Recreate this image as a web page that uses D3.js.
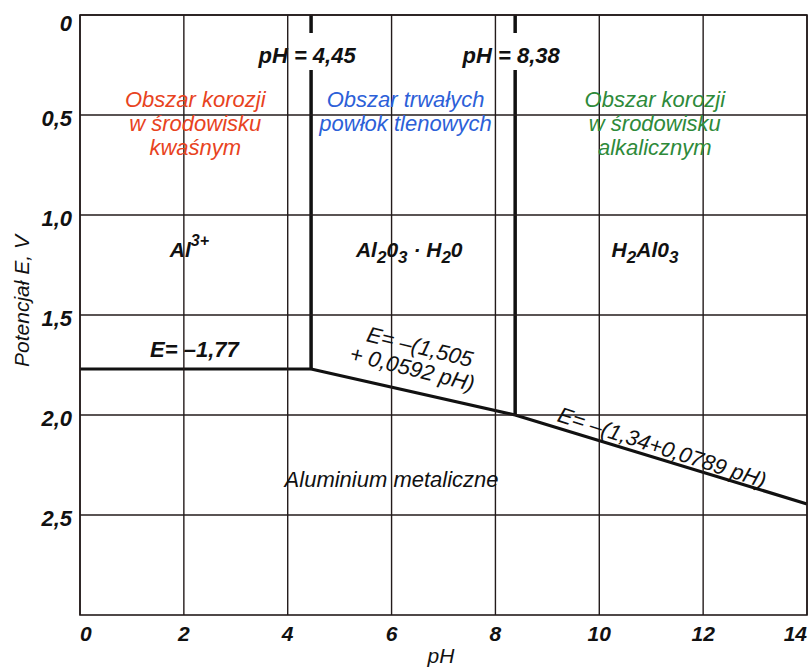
<!DOCTYPE html>
<meta charset="utf-8" />
<script src="https://d3js.org/d3.v7.min.js"></script>
<style>
  body { margin: 0; background: #fff; }
  text { font-family: 'Liberation Sans', Arial, sans-serif; font-style: italic; }
</style>
<div id="chart"></div>
<script>
  // axis ticks
  const pHTicks = [0, 2, 4, 6, 8, 10, 12, 14];
  const eTicks = [0, 0.5, 1.0, 1.5, 2.0, 2.5];
  const eTickLabels = ['0', '0,5', '1,0', '1,5', '2,0', '2,5'];

  // boundaries of the Pourbaix diagram (pH, -E in V)
  const boundaryPH = [4.45, 8.38];
  const boundaryPHLabels = ['pH = 4,45', 'pH = 8,38'];
  const boundaryTopE = [1.77, 2.0];
  const al3Line = [[0, 1.77], [4.45, 1.77]];
  const metalLine = [[4.45, 1.77], [8.38, 2.0], [14, 2.445]];

  const margin = { top: 15, right: 2, bottom: 55, left: 80 },
    width = 809 - margin.left - margin.right,
    height = 670 - margin.top - margin.bottom;

  const svg = d3.select('#chart')
    .append('svg')
    .attr('width', 809)
    .attr('height', 670)
    .append('g')
    .attr('transform', `translate(${margin.left}, ${margin.top})`);

  const x = d3.scaleLinear().domain([0, 14]).range([0, width]);
  const y = d3.scaleLinear().domain([0, 3]).range([0, height]);
  const ink = '#231b1b';

  // thick boundary lines
  const line = d3.line().x(d => x(d[0])).y(d => y(d[1]));
  boundaryPH.forEach((p, i) => {
    svg.append('line')
      .attr('x1', x(p)).attr('x2', x(p))
      .attr('y1', y(0)).attr('y2', y(boundaryTopE[i]))
      .attr('stroke', '#111').attr('stroke-width', 3.5);
  });
  [al3Line, metalLine].forEach(d => {
    svg.append('path').datum(d)
      .attr('d', line)
      .attr('fill', 'none')
      .attr('stroke', '#111')
      .attr('stroke-width', 3.2)
      .attr('stroke-linejoin', 'round');
  });

  // pH labels with a white gap in the boundary line
  boundaryPH.forEach((p, i) => {
    const t = svg.append('text')
      .attr('x', x(p) - 4)
      .attr('y', 48)
      .attr('text-anchor', 'middle')
      .style('font-weight', 'bold')
      .style('font-size', '22px')
      .attr('fill', '#111')
      .text(boundaryPHLabels[i]);
    const b = t.node().getBBox();
    svg.insert('rect', 'text')
      .attr('x', b.x - 2).attr('y', b.y - 10)
      .attr('width', b.width + 4).attr('height', b.height + 12)
      .attr('fill', '#fff');
  });

  // grid
  svg.append('g')
    .selectAll('line')
    .data(pHTicks)
    .join('line')
    .attr('x1', d => x(d)).attr('x2', d => x(d))
    .attr('y1', 0).attr('y2', height)
    .attr('stroke', ink).attr('stroke-width', 1.4);
  svg.append('g')
    .selectAll('line')
    .data(eTicks)
    .join('line')
    .attr('x1', 0).attr('x2', width)
    .attr('y1', d => y(d)).attr('y2', d => y(d))
    .attr('stroke', ink).attr('stroke-width', 1.4);
  svg.append('rect')
    .attr('width', width).attr('height', height)
    .attr('fill', 'none').attr('stroke', ink).attr('stroke-width', 1.6);

  // tick labels
  svg.append('g')
    .selectAll('text')
    .data(eTicks)
    .join('text')
    .attr('x', -8)
    .attr('y', (d, i) => y(d) + (i === 0 ? 16 : 11))
    .attr('text-anchor', 'end')
    .style('font-weight', 'bold')
    .style('font-size', '22px')
    .attr('fill', '#111')
    .text((d, i) => eTickLabels[i]);
  svg.append('g')
    .selectAll('text')
    .data(pHTicks)
    .join('text')
    .attr('x', d => x(d))
    .attr('y', height + 26)
    .attr('text-anchor', (d, i) => i === 0 ? 'start' : i === pHTicks.length - 1 ? 'end' : 'middle')
    .style('font-weight', 'bold')
    .style('font-size', '21px')
    .attr('fill', '#111')
    .text(d => d);

  // axis titles
  svg.append('text')
    .attr('x', x(6.95)).attr('y', height + 48)
    .attr('text-anchor', 'middle')
    .style('font-size', '21px')
    .attr('fill', '#111')
    .text('pH');
  svg.append('text')
    .attr('transform', `translate(-51, ${y(1.43)}) rotate(-90)`)
    .attr('text-anchor', 'middle')
    .style('font-size', '21px')
    .attr('fill', '#111')
    .text('Potencjał E, V');

  // region titles
  const regionText = (px, lines, color) => {
    const t = svg.append('text')
      .attr('text-anchor', 'middle')
      .style('font-size', '22px')
      .attr('fill', color);
    lines.forEach((s, i) => {
      t.append('tspan').attr('x', x(px)).attr('y', y(0.46) + i * 24).text(s);
    });
  };
  regionText(2.22, ['Obszar korozji', 'w środowisku', 'kwaśnym'], '#e8431e');
  regionText(6.27, ['Obszar trwałych', 'powłok tlenowych'], '#2c60d8');
  regionText(11.07, ['Obszar korozji', 'w środowisku', 'alkalicznym'], '#2e8a3a');

  // species labels with sub/superscripts
  const species = (px, anchor, parts) => {
    const t = svg.append('text')
      .attr('x', x(px)).attr('y', y(1.21))
      .attr('text-anchor', anchor)
      .style('font-weight', 'bold')
      .style('font-size', '21px')
      .attr('fill', '#111');
    parts.forEach(([s, k]) => {
      const sp = t.append('tspan').text(s);
      if (k === 'sub') sp.attr('dy', 6).style('font-size', '17px');
      if (k === 'sup') sp.attr('dy', -11).style('font-size', '16px');
      if (k === 'back') sp.attr('dy', -6);
    });
  };
  species(1.73, 'start', [['Al'], ['3+', 'sup']]);
  species(6.34, 'middle', [['Al'], ['2', 'sub'], ['0', 'back'], ['3', 'sub'], [' · H', 'back'], ['2', 'sub'], ['0', 'back']]);
  species(10.88, 'middle', [['H'], ['2', 'sub'], ['Al0', 'back'], ['3', 'sub']]);

  svg.append('text')
    .attr('x', x(1.35)).attr('y', y(1.71))
    .style('font-weight', 'bold')
    .style('font-size', '22px')
    .attr('fill', '#111')
    .text('E= –1,77');

  // equations along the sloped boundary
  const eq1 = svg.append('text')
    .attr('transform', `translate(${x(5.5)}, ${y(1.63)}) rotate(14)`)
    .style('font-size', '22px')
    .attr('fill', '#111');
  eq1.append('tspan').attr('x', 0).attr('y', 0).text('E= –(1,505');
  eq1.append('tspan').attr('x', -12).attr('y', 23).text('+ 0,0592 pH)');

  svg.append('text')
    .attr('transform', `translate(${x(9.17)}, ${y(2.03)}) rotate(18)`)
    .style('font-size', '22px')
    .attr('fill', '#111')
    .text('E= –(1,34+0,0789 pH)');

  svg.append('text')
    .attr('x', x(6.0)).attr('y', y(2.36))
    .attr('text-anchor', 'middle')
    .style('font-size', '22px')
    .attr('fill', '#111')
    .text('Aluminium metaliczne');
</script>
